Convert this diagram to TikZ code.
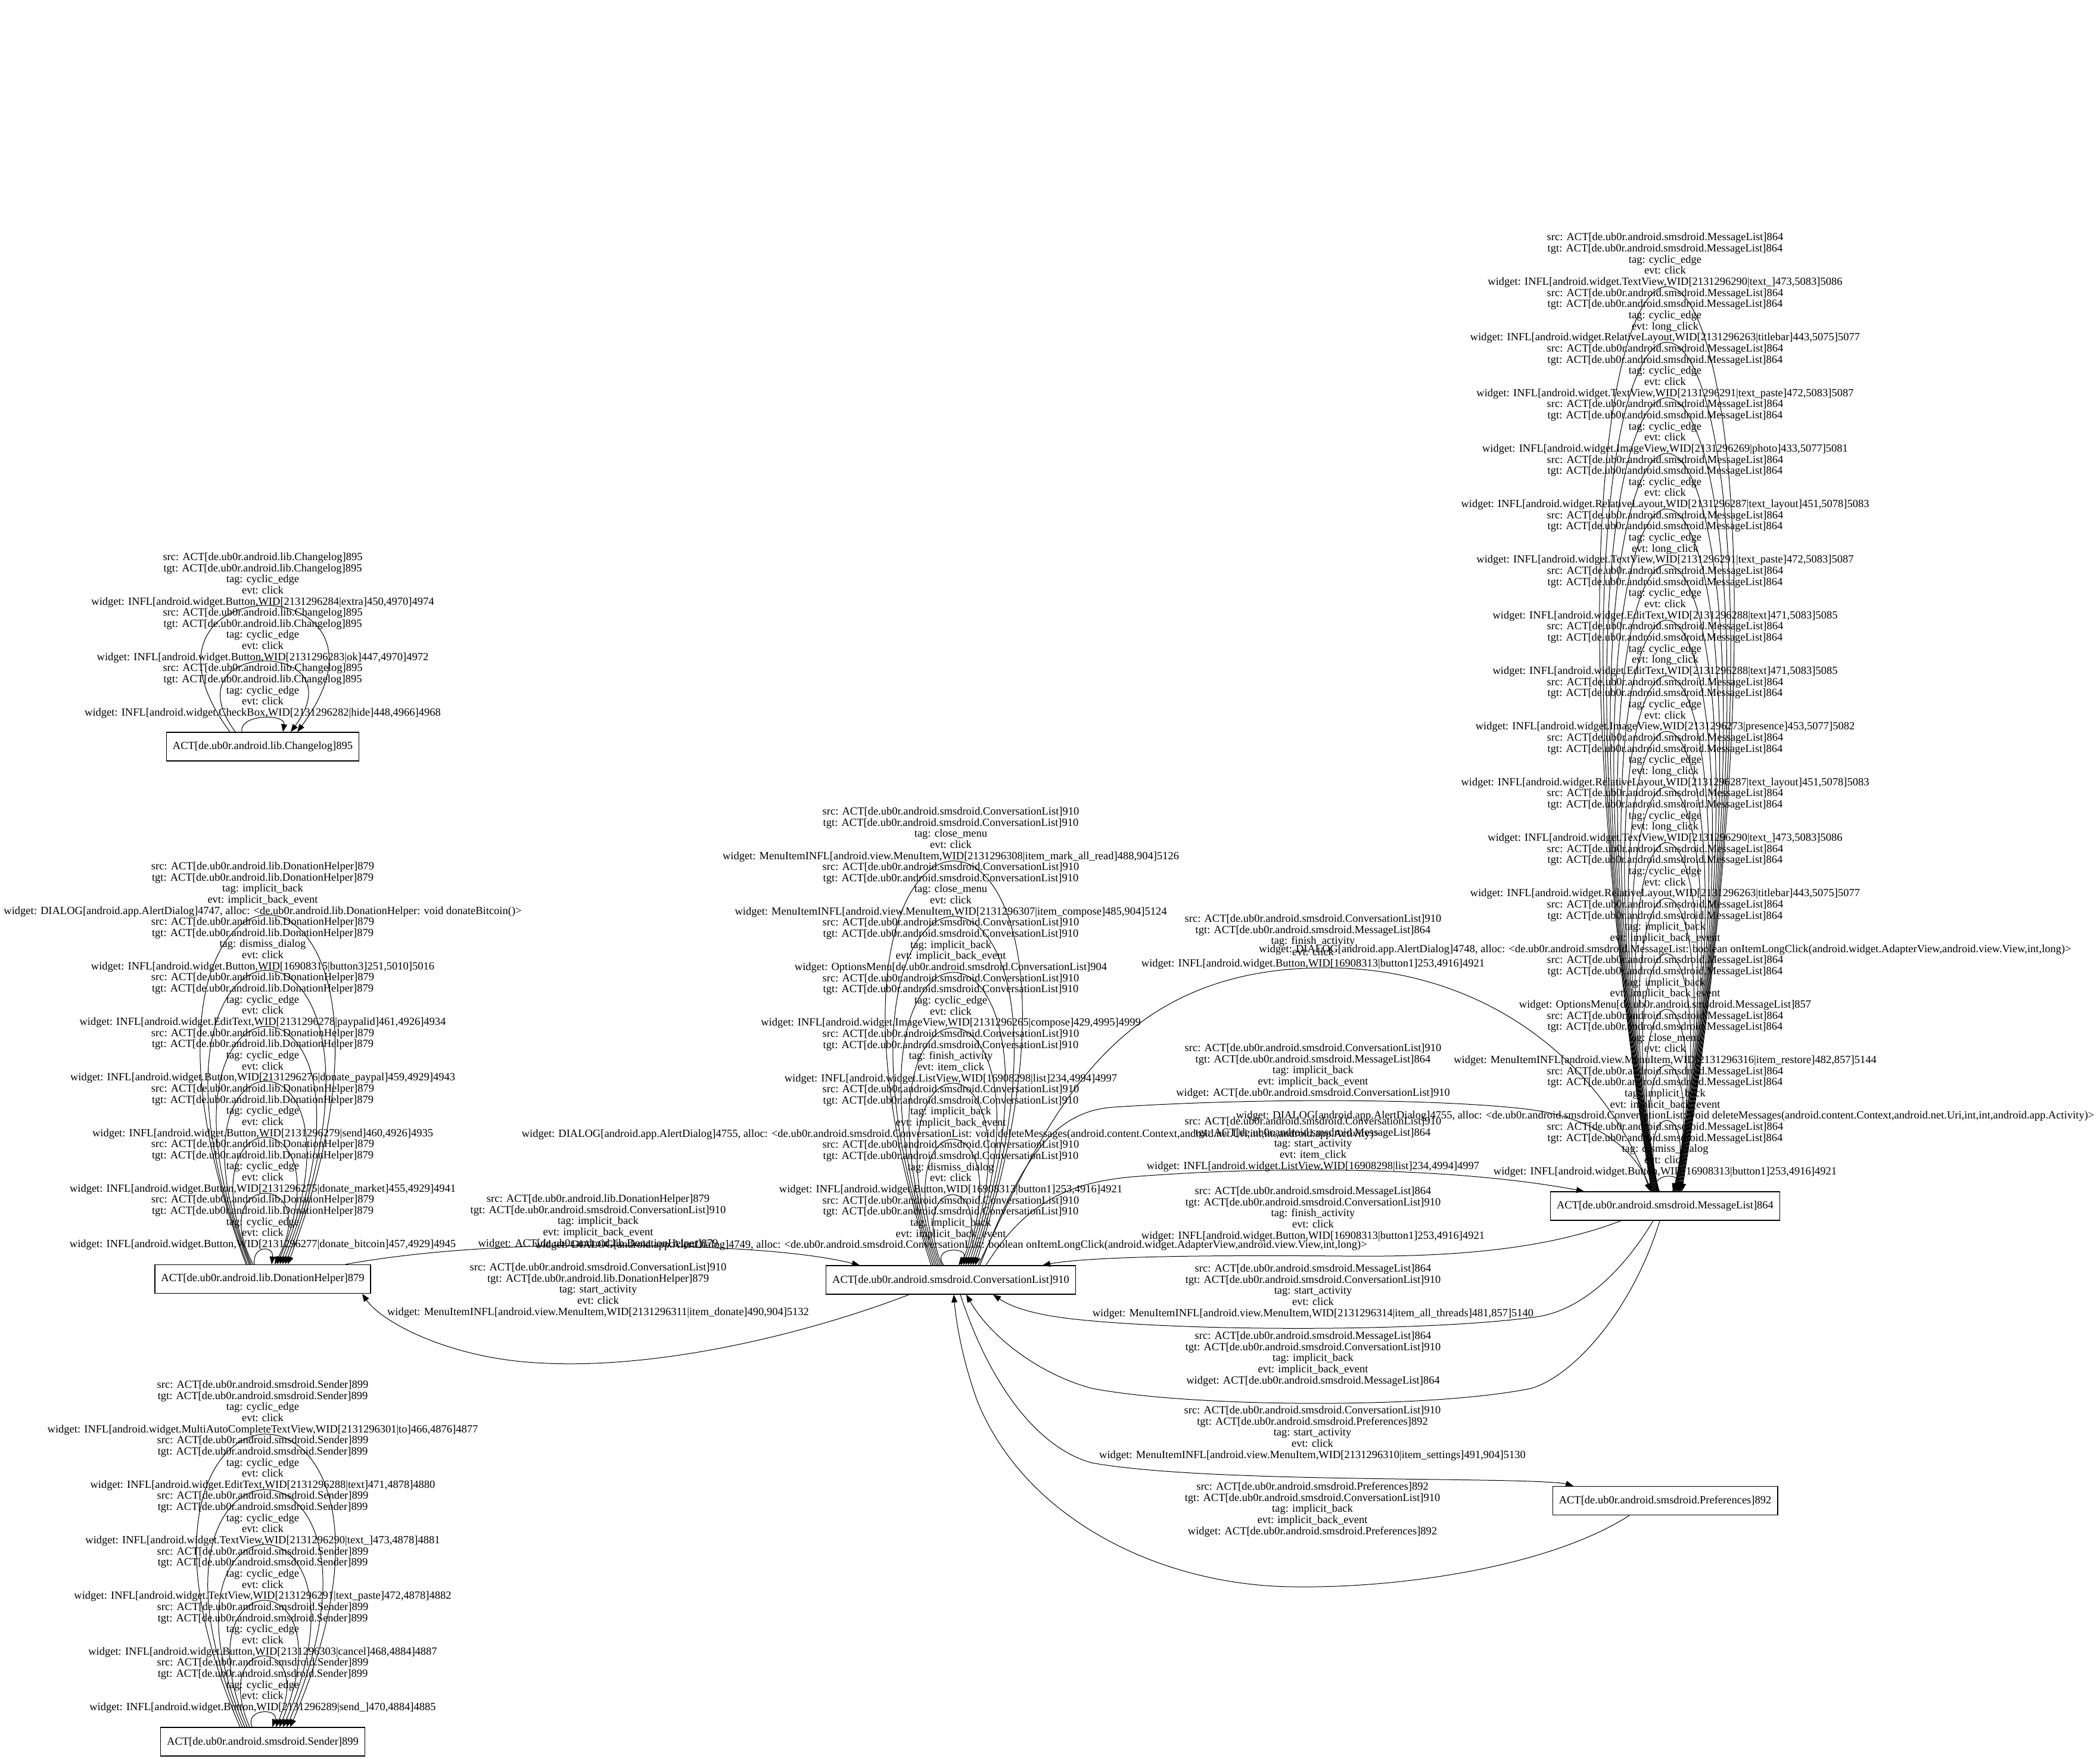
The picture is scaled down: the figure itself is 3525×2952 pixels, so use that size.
\documentclass[tikz,border=0pt]{standalone}
\usepackage{fontspec}
\setmainfont{Liberation Serif}
\usetikzlibrary{arrows.meta}
\newcommand\nCL{ACT[de.ub0r.android.lib.Changelog]895}
\newcommand\nDH{ACT[de.ub0r.android.lib.DonationHelper]879}
\newcommand\nSN{ACT[de.ub0r.android.smsdroid.Sender]899}
\newcommand\nCV{ACT[de.ub0r.android.smsdroid.ConversationList]910}
\newcommand\nMS{ACT[de.ub0r.android.smsdroid.MessageList]864}
\newcommand\nPR{ACT[de.ub0r.android.smsdroid.Preferences]892}
\newcommand\blk[5]{src: #1\\tgt: #2\\tag: #3\\evt: #4\\widget: #5}
\newcommand\lblfont{\fontsize{18.5}{18.65}\selectfont}
\newcommand\selfloop[5]{\draw[conn] ([xshift=#2pt]#1.north) .. controls +(-#4,-#5*1.3333) and +(#4,-#5*1.3333) .. ([xshift=#3pt]#1.north);}
\begin{document}
\begin{tikzpicture}[x=1pt,y=-1pt,
  every node/.style={font=\lblfont},
  actbox/.style={draw, line width=1.4pt, minimum height=48pt, inner xsep=10.5pt, inner ysep=0pt},
  lbl/.style={align=center, inner sep=0pt},
  conn/.style={draw, line width=1pt, -{Triangle[length=13pt,width=10pt]}}]
\useasboundingbox (0,0) rectangle (3525,2952);

% activity nodes
\node[actbox] (chg) at (441,1253) {\nCL};
\node[actbox] (dh) at (441,2146.5) {\nDH};
\node[actbox] (snd) at (441,2923) {\nSN};
\node[actbox] (cvl) at (1596,2148) {\nCV};
\node[actbox] (msl) at (2795,2024) {\nMS};
\node[actbox] (prf) at (2795,2518.5) {\nPR};

% Changelog self loops
\selfloop{chg}{-35}{34}{5}{23}
\selfloop{chg}{-46}{47}{116}{118}
\selfloop{chg}{-55}{58}{207}{211}
\node[lbl] (chg1) at (441,973.3) {\blk{\nCL}{\nCL}{cyclic\_edge}{click}{INFL[android.widget.Button,WID[2131296284|extra]450,4970]4974}};
\node[lbl] (chg2) at (441,1066.55) {\blk{\nCL}{\nCL}{cyclic\_edge}{click}{INFL[android.widget.Button,WID[2131296283|ok]447,4970]4972}};
\node[lbl] (chg3) at (441,1159.8) {\blk{\nCL}{\nCL}{cyclic\_edge}{click}{INFL[android.widget.CheckBox,WID[2131296282|hide]448,4966]4968}};

% DonationHelper self loops
\selfloop{dh}{-14}{15}{4}{24}
\selfloop{dh}{-16}{20}{83}{118}
\selfloop{dh}{-19}{24}{123}{212}
\selfloop{dh}{-21}{28.5}{167}{306}
\selfloop{dh}{-23}{33}{211}{398}
\selfloop{dh}{-26}{37.5}{252}{492}
\selfloop{dh}{-28}{42}{293}{585}
\node[lbl] (dh1) at (441,1492.3) {\blk{\nDH}{\nDH}{implicit\_back}{implicit\_back\_event}{DIALOG[android.app.AlertDialog]4747, alloc: <de.ub0r.android.lib.DonationHelper: void donateBitcoin()>}};
\node[lbl] (dh2) at (441,1585.55) {\blk{\nDH}{\nDH}{dismiss\_dialog}{click}{INFL[android.widget.Button,WID[16908315|button3]251,5010]5016}};
\node[lbl] (dh3) at (441,1678.8) {\blk{\nDH}{\nDH}{cyclic\_edge}{click}{INFL[android.widget.EditText,WID[2131296278|paypalid]461,4926]4934}};
\node[lbl] (dh4) at (441,1772.05) {\blk{\nDH}{\nDH}{cyclic\_edge}{click}{INFL[android.widget.Button,WID[2131296276|donate\_paypal]459,4929]4943}};
\node[lbl] (dh5) at (441,1865.3) {\blk{\nDH}{\nDH}{cyclic\_edge}{click}{INFL[android.widget.Button,WID[2131296279|send]460,4926]4935}};
\node[lbl] (dh6) at (441,1958.55) {\blk{\nDH}{\nDH}{cyclic\_edge}{click}{INFL[android.widget.Button,WID[2131296275|donate\_market]455,4929]4941}};
\node[lbl] (dh7) at (441,2051.8) {\blk{\nDH}{\nDH}{cyclic\_edge}{click}{INFL[android.widget.Button,WID[2131296277|donate\_bitcoin]457,4929]4945}};

% Sender self loops
\selfloop{snd}{-18}{16}{12.5}{24}
\selfloop{snd}{-22}{22}{68}{118}
\selfloop{snd}{-26}{28}{120}{211}
\selfloop{snd}{-30}{34}{176}{305}
\selfloop{snd}{-34}{40}{228}{397}
\selfloop{snd}{-38}{46}{284}{490}
\node[lbl] (sn1) at (441,2362.3) {\blk{\nSN}{\nSN}{cyclic\_edge}{click}{INFL[android.widget.MultiAutoCompleteTextView,WID[2131296301|to]466,4876]4877}};
\node[lbl] (sn2) at (441,2455.55) {\blk{\nSN}{\nSN}{cyclic\_edge}{click}{INFL[android.widget.EditText,WID[2131296288|text]471,4878]4880}};
\node[lbl] (sn3) at (441,2548.8) {\blk{\nSN}{\nSN}{cyclic\_edge}{click}{INFL[android.widget.TextView,WID[2131296290|text\_]473,4878]4881}};
\node[lbl] (sn4) at (441,2642.05) {\blk{\nSN}{\nSN}{cyclic\_edge}{click}{INFL[android.widget.TextView,WID[2131296291|text\_paste]472,4878]4882}};
\node[lbl] (sn5) at (441,2735.3) {\blk{\nSN}{\nSN}{cyclic\_edge}{click}{INFL[android.widget.Button,WID[2131296303|cancel]468,4884]4887}};
\node[lbl] (sn6) at (441,2828.55) {\blk{\nSN}{\nSN}{cyclic\_edge}{click}{INFL[android.widget.Button,WID[2131296289|send\_]470,4884]4885}};

% ConversationList self loops
\selfloop{cvl}{-12}{13}{23}{24}
\selfloop{cvl}{-15}{17}{62}{117}
\selfloop{cvl}{-18}{21}{101}{210}
\selfloop{cvl}{-21}{25}{140}{304}
\selfloop{cvl}{-24}{29}{179}{397}
\selfloop{cvl}{-27}{33}{218}{490}
\selfloop{cvl}{-30}{37}{257}{584}
\selfloop{cvl}{-33}{41}{294}{677}
\node[lbl] (cv1) at (1596,1400.3) {\blk{\nCV}{\nCV}{close\_menu}{click}{MenuItemINFL[android.view.MenuItem,WID[2131296308|item\_mark\_all\_read]488,904]5126}};
\node[lbl] (cv2) at (1596,1493.55) {\blk{\nCV}{\nCV}{close\_menu}{click}{MenuItemINFL[android.view.MenuItem,WID[2131296307|item\_compose]485,904]5124}};
\node[lbl] (cv3) at (1596,1586.8) {\blk{\nCV}{\nCV}{implicit\_back}{implicit\_back\_event}{OptionsMenu[de.ub0r.android.smsdroid.ConversationList]904}};
\node[lbl] (cv4) at (1596,1680.05) {\blk{\nCV}{\nCV}{cyclic\_edge}{click}{INFL[android.widget.ImageView,WID[2131296265|compose]429,4995]4999}};
\node[lbl] (cv5) at (1596,1773.3) {\blk{\nCV}{\nCV}{finish\_activity}{item\_click}{INFL[android.widget.ListView,WID[16908298|list]234,4994]4997}};
\node[lbl] (cv6) at (1596,1866.55) {\blk{\nCV}{\nCV}{implicit\_back}{implicit\_back\_event}{DIALOG[android.app.AlertDialog]4755, alloc: <de.ub0r.android.smsdroid.ConversationList: void deleteMessages(android.content.Context,android.net.Uri,int,int,android.app.Activity)>}};
\node[lbl] (cv7) at (1596,1959.8) {\blk{\nCV}{\nCV}{dismiss\_dialog}{click}{INFL[android.widget.Button,WID[16908313|button1]253,4916]4921}};
\node[lbl] (cv8) at (1596,2053.05) {\blk{\nCV}{\nCV}{implicit\_back}{implicit\_back\_event}{DIALOG[android.app.AlertDialog]4749, alloc: <de.ub0r.android.smsdroid.ConversationList: boolean onItemLongClick(android.widget.AdapterView,android.view.View,int,long)>}};

% MessageList self loops
\foreach \i in {0,...,16} {
  \pgfmathsetmacro\lpS{-9-0.875*\i}
  \pgfmathsetmacro\lpE{12+\i}
  \pgfmathsetmacro\lpW{25+18.5*\i}
  \pgfmathsetmacro\lpR{24+93.3*\i}
  \selfloop{msl}{\lpS}{\lpE}{\lpW}{\lpR}
}
\node[lbl] (ms1) at (2795,436.7) {\blk{\nMS}{\nMS}{cyclic\_edge}{click}{INFL[android.widget.TextView,WID[2131296290|text\_]473,5083]5086}};
\node[lbl] (ms2) at (2795,530.0) {\blk{\nMS}{\nMS}{cyclic\_edge}{long\_click}{INFL[android.widget.RelativeLayout,WID[2131296263|titlebar]443,5075]5077}};
\node[lbl] (ms3) at (2795,623.3) {\blk{\nMS}{\nMS}{cyclic\_edge}{click}{INFL[android.widget.TextView,WID[2131296291|text\_paste]472,5083]5087}};
\node[lbl] (ms4) at (2795,716.6) {\blk{\nMS}{\nMS}{cyclic\_edge}{click}{INFL[android.widget.ImageView,WID[2131296269|photo]433,5077]5081}};
\node[lbl] (ms5) at (2795,809.9) {\blk{\nMS}{\nMS}{cyclic\_edge}{click}{INFL[android.widget.RelativeLayout,WID[2131296287|text\_layout]451,5078]5083}};
\node[lbl] (ms6) at (2795,903.2) {\blk{\nMS}{\nMS}{cyclic\_edge}{long\_click}{INFL[android.widget.TextView,WID[2131296291|text\_paste]472,5083]5087}};
\node[lbl] (ms7) at (2795,996.5) {\blk{\nMS}{\nMS}{cyclic\_edge}{click}{INFL[android.widget.EditText,WID[2131296288|text]471,5083]5085}};
\node[lbl] (ms8) at (2795,1089.8) {\blk{\nMS}{\nMS}{cyclic\_edge}{long\_click}{INFL[android.widget.EditText,WID[2131296288|text]471,5083]5085}};
\node[lbl] (ms9) at (2795,1183.1) {\blk{\nMS}{\nMS}{cyclic\_edge}{click}{INFL[android.widget.ImageView,WID[2131296273|presence]453,5077]5082}};
\node[lbl] (ms10) at (2795,1276.4) {\blk{\nMS}{\nMS}{cyclic\_edge}{long\_click}{INFL[android.widget.RelativeLayout,WID[2131296287|text\_layout]451,5078]5083}};
\node[lbl] (ms11) at (2795,1369.7) {\blk{\nMS}{\nMS}{cyclic\_edge}{long\_click}{INFL[android.widget.TextView,WID[2131296290|text\_]473,5083]5086}};
\node[lbl] (ms12) at (2795,1463.0) {\blk{\nMS}{\nMS}{cyclic\_edge}{click}{INFL[android.widget.RelativeLayout,WID[2131296263|titlebar]443,5075]5077}};
\node[lbl] (ms13) at (2795,1556.3) {\blk{\nMS}{\nMS}{implicit\_back}{implicit\_back\_event}{DIALOG[android.app.AlertDialog]4748, alloc: <de.ub0r.android.smsdroid.MessageList: boolean onItemLongClick(android.widget.AdapterView,android.view.View,int,long)>}};
\node[lbl] (ms14) at (2795,1649.6) {\blk{\nMS}{\nMS}{implicit\_back}{implicit\_back\_event}{OptionsMenu[de.ub0r.android.smsdroid.MessageList]857}};
\node[lbl] (ms15) at (2795,1742.9) {\blk{\nMS}{\nMS}{close\_menu}{click}{MenuItemINFL[android.view.MenuItem,WID[2131296316|item\_restore]482,857]5144}};
\node[lbl] (ms16) at (2795,1836.2) {\blk{\nMS}{\nMS}{implicit\_back}{implicit\_back\_event}{DIALOG[android.app.AlertDialog]4755, alloc: <de.ub0r.android.smsdroid.ConversationList: void deleteMessages(android.content.Context,android.net.Uri,int,int,android.app.Activity)>}};
\node[lbl] (ms17) at (2795,1929.5) {\blk{\nMS}{\nMS}{dismiss\_dialog}{click}{INFL[android.widget.Button,WID[16908313|button1]253,4916]4921}};

% edges between activities
% A: DonationHelper -> ConversationList
\draw[conn] ([xshift=139pt]dh.north) .. controls (700,2100) and (850,2090) .. (1000,2090) .. controls (1200,2090) and (1350,2100) .. ([xshift=-153pt]cvl.north);
\node[lbl] (la) at (1004,2050.3) {\blk{\nDH}{\nCV}{implicit\_back}{implicit\_back\_event}{\nDH}};
% B: ConversationList -> DonationHelper
\draw[conn] ([xshift=-70pt]cvl.south) .. controls (1350,2240) and (1100,2300) .. (900,2287) .. controls (780,2280) and (690,2240) .. (649,2212) .. controls (630,2200) and (618,2186) .. ([xshift=167pt]dh.south);
\node[lbl] (lb) at (1004,2165.3) {\blk{\nCV}{\nDH}{start\_activity}{click}{MenuItemINFL[android.view.MenuItem,WID[2131296311|item\_donate]490,904]5132}};
% C: ConversationList -> MessageList (finish_activity)
\draw[conn] ([xshift=46pt]cvl.north) .. controls (1750,1900) and (1850,1640) .. (2191,1625) .. controls (2500,1610) and (2700,1800) .. ([xshift=-25pt]msl.north);
\node[lbl] (lc) at (2204,1580.3) {\blk{\nCV}{\nMS}{finish\_activity}{click}{INFL[android.widget.Button,WID[16908313|button1]253,4916]4921}};
% D: ConversationList -> MessageList (implicit_back)
\draw[conn] ([xshift=49pt]cvl.north) .. controls (1710,1960) and (1760,1865) .. (1870,1858) .. controls (2100,1843) and (2400,1843) .. (2560,1861) .. controls (2680,1875) and (2745,1930) .. ([xshift=-23pt]msl.north);
\node[lbl] (ld) at (2204,1797.3) {\blk{\nCV}{\nMS}{implicit\_back}{implicit\_back\_event}{\nCV}};
% E: ConversationList -> MessageList (start_activity)
\draw[conn] ([xshift=59pt]cvl.north) .. controls (1720,2020) and (1790,1985) .. (1900,1975) .. controls (2150,1955) and (2450,1960) .. ([xshift=-136pt]msl.north);
\node[lbl] (le) at (2204,1920.3) {\blk{\nCV}{\nMS}{start\_activity}{item\_click}{INFL[android.widget.ListView,WID[16908298|list]234,4994]4997}};
% F: MessageList -> ConversationList (finish_activity)
\draw[conn] ([xshift=-74pt]msl.south) .. controls (2600,2095) and (2450,2110) .. (2257,2108) .. controls (2050,2106) and (1830,2108) .. ([xshift=154pt]cvl.north);
\node[lbl] (lf) at (2204,2037.3) {\blk{\nMS}{\nCV}{finish\_activity}{click}{INFL[android.widget.Button,WID[16908313|button1]253,4916]4921}};
% G: MessageList -> ConversationList (start_activity)
\draw[conn] ([xshift=-20pt]msl.south) .. controls (2720,2140) and (2650,2200) .. (2579,2210) .. controls (2400,2235) and (2000,2235) .. (1805,2214) .. controls (1740,2207) and (1700,2195) .. ([xshift=71pt]cvl.south);
\node[lbl] (lg) at (2204,2167.3) {\blk{\nMS}{\nCV}{start\_activity}{click}{MenuItemINFL[android.view.MenuItem,WID[2131296314|item\_all\_threads]481,857]5140}};
% H: MessageList -> ConversationList (implicit_back)
\draw[conn] ([xshift=-9pt]msl.south) .. controls (2740,2200) and (2640,2310) .. (2570,2330) .. controls (2400,2365) and (2000,2362) .. (1833,2330) .. controls (1740,2305) and (1660,2240) .. ([xshift=26pt]cvl.south);
\node[lbl] (lh) at (2204,2280.3) {\blk{\nMS}{\nCV}{implicit\_back}{implicit\_back\_event}{\nMS}};
% I: ConversationList -> Preferences
\draw[conn] ([xshift=16pt]cvl.south) .. controls (1660,2320) and (1740,2430) .. (1833,2455) .. controls (2000,2485) and (2400,2480) .. (2570,2486) .. controls (2600,2487) and (2625,2489) .. ([xshift=-154pt]prf.north);
\node[lbl] (li) at (2203,2405.3) {\blk{\nCV}{\nPR}{start\_activity}{click}{MenuItemINFL[android.view.MenuItem,WID[2131296310|item\_settings]491,904]5130}};
% J: Preferences -> ConversationList
\draw[conn] ([xshift=-60pt]prf.south) .. controls (2600,2630) and (2350,2665) .. (2177,2663) .. controls (1950,2663) and (1720,2550) .. (1640,2350) .. controls (1615,2280) and (1605,2220) .. ([xshift=5pt]cvl.south);
\node[lbl] (lj) at (2203,2533.3) {\blk{\nPR}{\nCV}{implicit\_back}{implicit\_back\_event}{\nPR}};
\end{tikzpicture}
\end{document}
